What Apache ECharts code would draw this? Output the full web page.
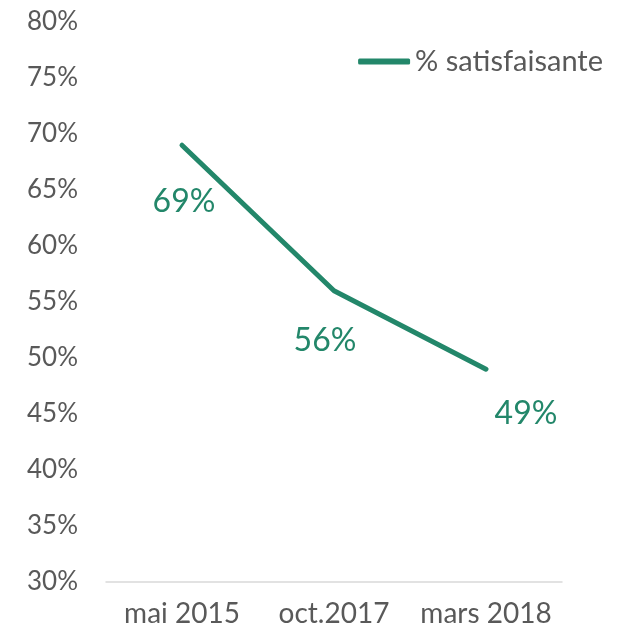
<!DOCTYPE html>
<html>
<head>
<meta charset="utf-8">
<script src="https://cdn.jsdelivr.net/npm/echarts@6/dist/echarts.min.js"></script>
<style>html,body{margin:0;padding:0;background:#fff;}#c{width:626px;height:637px;}</style>
</head>
<body>
<div id="c"></div>
<script>
const categories = ['mai 2015', 'oct.2017', 'mars 2018'];
const satisfaisante = [69, 56, 49];
const seriesName = '% satisfaisante';

const GREEN = '#23876A';
const GREY = '#595959';
const FONT = 'Lato';
const LABEL_OFFSETS = [[2, 0], [-9, -6], [40, -12]];

const chart = echarts.init(document.getElementById('c'), null, {renderer: 'canvas'});
chart.setOption({
  animation: false,
  backgroundColor: '#ffffff',
  grid: {left: 106, right: 64, top: 22, bottom: 55, containLabel: false},
  legend: {
    data: [{name: seriesName, icon: 'roundRect'}],
    right: 18, top: 42,
    itemWidth: 52, itemHeight: 6, itemGap: 6,
    textStyle: {fontFamily: FONT, fontSize: 29, color: GREY}
  },
  xAxis: {
    type: 'category',
    data: categories,
    boundaryGap: true,
    axisLine: {lineStyle: {color: '#D9D9D9', width: 1.5}},
    axisTick: {show: false},
    axisLabel: {fontFamily: FONT, fontSize: 28, color: GREY, margin: 18, interval: 0}
  },
  yAxis: {
    type: 'value',
    min: 30, max: 80, interval: 5,
    axisLine: {show: false},
    axisTick: {show: false},
    splitLine: {show: false},
    axisLabel: {fontFamily: FONT, fontSize: 26, color: GREY, margin: 28, formatter: v => v + '%'}
  },
  series: [{
    name: seriesName,
    type: 'line',
    data: satisfaisante.map((v, i) => ({value: v, label: {offset: LABEL_OFFSETS[i]}})),
    symbol: 'circle',
    symbolSize: 0.01,
    showSymbol: true,
    lineStyle: {color: GREEN, width: 5, cap: 'round', join: 'round'},
    itemStyle: {color: GREEN},
    label: {
      show: true, position: 'bottom', distance: 40,
      fontFamily: FONT, fontSize: 32, color: GREEN,
      formatter: p => p.value + '%'
    }
  }]
});
</script>
</body>
</html>
